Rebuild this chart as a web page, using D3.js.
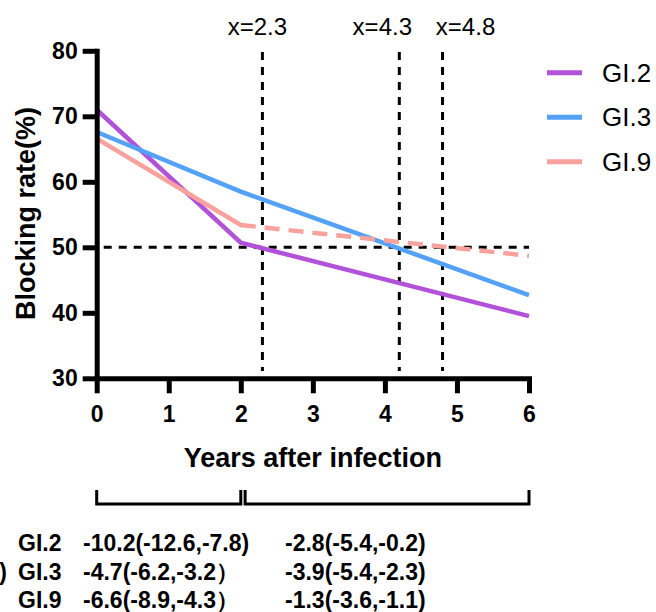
<!DOCTYPE html>
<html>
<head>
<meta charset="utf-8">
<title>Blocking rate over time</title>
<script src="https://cdn.jsdelivr.net/npm/d3@7"></script>
<style>
  body { margin: 0; background: #fff; }
  text { font-family: "Liberation Sans", Arial, sans-serif; }
</style>
</head>
<body>
<script>
// data
var years = [0, 2, 6];
var gi2 = [71.0, 50.7, 39.5];
var gi3 = [67.6, 58.5, 42.7];
var gi9 = [66.6, 53.4, 48.7];
var seriesNames = ["GI.2", "GI.3", "GI.9"];
var seriesColors = ["#b152d9", "#54a1f8", "#f9a19d"];
var xTicks = [0, 1, 2, 3, 4, 5, 6];
var yTicks = [30, 40, 50, 60, 70, 80];
var cutX = [2.3, 4.2, 4.8];
var cutLabels = ["x=2.3", "x=4.3", "x=4.8"];
var threshold = 50;
var periods = [[0, 2], [2.06, 6]];
var col1 = ["-10.2(-12.6,-7.8)", "-4.7(-6.2,-3.2\uFF09", "-6.6(-8.9,-4.3\uFF09"];
var col2 = ["-2.8(-5.4,-0.2)", "-3.9(-5.4,-2.3)", "-1.3(-3.6,-1.1)"];

var w = 656, h = 612;
var svg = d3.select("body").append("svg").attr("width", w).attr("height", h);

var x = d3.scaleLinear().domain([0, 6]).range([96.7, 529]);
var y = d3.scaleLinear().domain([30, 80]).range([378.3, 50.8]);

// reference lines
svg.append("line")
    .attr("x1", x(0)).attr("x2", x(6))
    .attr("y1", y(threshold)).attr("y2", y(threshold))
    .attr("stroke", "#000").attr("stroke-width", 3)
    .attr("stroke-dasharray", "8,7").attr("stroke-dashoffset", -7);

svg.selectAll(".cut")
    .data(cutX)
    .enter()
    .append("line")
    .attr("class", "cut")
    .attr("x1", function (d) { return x(d); })
    .attr("x2", function (d) { return x(d); })
    .attr("y1", 52).attr("y2", 371)
    .attr("stroke", "#000").attr("stroke-width", 3)
    .attr("stroke-dasharray", "8,7");

var labelShift = [-5, -17, 23];
svg.selectAll(".cutlabel")
    .data(cutLabels)
    .enter()
    .append("text")
    .attr("x", function (d, i) { return x(cutX[i]) + labelShift[i]; })
    .attr("y", 35)
    .attr("text-anchor", "middle")
    .attr("font-size", 24)
    .text(function (d) { return d; });

// series lines
var line = d3.line()
    .x(function (d) { return x(d[0]); })
    .y(function (d) { return y(d[1]); });

var allSeries = [gi2, gi3, gi9];
allSeries.forEach(function (vals, i) {
    var pts = years.map(function (t, j) { return [t, vals[j]]; });
    if (i === 2) {
        svg.append("path").attr("d", line(pts.slice(0, 2)))
            .attr("fill", "none").attr("stroke", seriesColors[i])
            .attr("stroke-width", 4.5).attr("stroke-linecap", "round");
        svg.append("path").attr("d", line(pts.slice(1)))
            .attr("fill", "none").attr("stroke", seriesColors[i])
            .attr("stroke-width", 4.5).attr("stroke-dasharray", "15,9");
    } else {
        svg.append("path").attr("d", line(pts))
            .attr("fill", "none").attr("stroke", seriesColors[i])
            .attr("stroke-width", 4.5);
    }
});

// axes
var yAxis = d3.axisLeft(y).tickValues(yTicks).tickSize(14).tickSizeOuter(0).tickPadding(5);
var xAxis = d3.axisBottom(x).tickValues(xTicks).tickFormat(d3.format("d"))
    .tickSize(15).tickSizeOuter(0).tickPadding(12);

var gy = svg.append("g").attr("transform", "translate(" + x(0) + ",0)").call(yAxis);
var gx = svg.append("g").attr("transform", "translate(0," + y(30) + ")").call(xAxis);

[gx, gy].forEach(function (g) {
    g.select(".domain").attr("stroke", "#000").attr("stroke-width", 5).attr("stroke-linecap", "square");
    g.selectAll(".tick line").attr("stroke", "#000").attr("stroke-width", 5);
    g.selectAll(".tick text")
        .attr("fill", "#000")
        .attr("font-size", 23)
        .attr("font-weight", "bold")
        .attr("font-family", "'Liberation Sans', Arial, sans-serif");
});

svg.append("text")
    .attr("x", x(3)).attr("y", 467)
    .attr("text-anchor", "middle")
    .attr("font-size", 27).attr("font-weight", "bold")
    .text("Years after infection");

svg.append("text")
    .attr("transform", "translate(35," + (y(55) - 1) + ") rotate(-90)")
    .attr("text-anchor", "middle")
    .attr("font-size", 27).attr("font-weight", "bold")
    .text("Blocking rate(%)");

// legend
var legend = svg.selectAll(".legend")
    .data(seriesNames)
    .enter()
    .append("g")
    .attr("transform", function (d, i) { return "translate(547," + (72.7 + i * 44.5) + ")"; });

legend.append("line")
    .attr("x1", 0).attr("x2", 35)
    .attr("stroke", function (d, i) { return seriesColors[i]; })
    .attr("stroke-width", 5);

legend.append("text")
    .attr("x", 55).attr("y", 9)
    .attr("font-size", 26)
    .text(function (d) { return d; });

// period brackets
svg.selectAll(".bracket")
    .data(periods)
    .enter()
    .append("path")
    .attr("d", function (d) {
        return "M" + x(d[0]) + ",490V504H" + x(d[1]) + "V490";
    })
    .attr("fill", "none").attr("stroke", "#000").attr("stroke-width", 3);

// slope table
var rowY = [550.5, 580, 608];
var fs = 23;
svg.append("text").attr("x", 7).attr("y", rowY[1])
    .attr("text-anchor", "end").attr("font-size", fs).attr("font-weight", "bold").text(")");

seriesNames.forEach(function (name, i) {
    svg.append("text").attr("x", 18).attr("y", rowY[i])
        .attr("font-size", fs).attr("font-weight", "bold").text(name);
    svg.append("text").attr("x", 83).attr("y", rowY[i])
        .attr("font-size", fs).attr("font-weight", "bold").text(col1[i]);
    svg.append("text").attr("x", 285).attr("y", rowY[i])
        .attr("font-size", fs).attr("font-weight", "bold").text(col2[i]);
});
</script>
</body>
</html>
